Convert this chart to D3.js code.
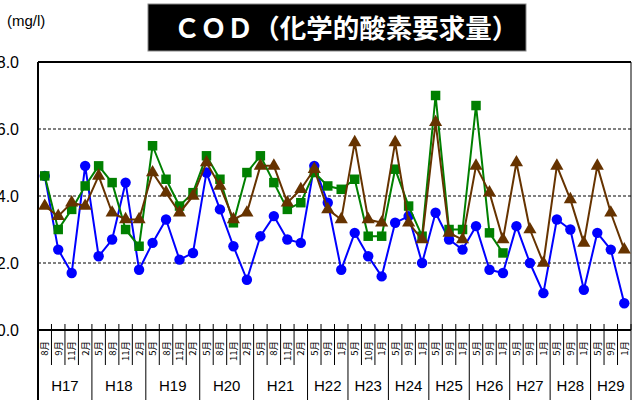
<!DOCTYPE html>
<html><head><meta charset="utf-8">
<script src="https://cdn.jsdelivr.net/npm/d3@7"></script>
<style>
body{margin:0;background:#fff;}
svg{display:block;}
</style></head>
<body>
<svg id="chart" width="632" height="400"></svg>
<script>
const titleText = "ＣＯＤ（化学的酸素要求量）";
const unitText = "(mg/l)";
const monthLabels = [
  "8月","9月","11月","2月",
  "5月","8月","11月","2月",
  "5月","8月","11月","2月",
  "5月","8月","11月","2月",
  "5月","8月","11月","2月",
  "5月","9月","1月",
  "5月","10月","1月",
  "5月","9月","1月",
  "5月","9月","1月",
  "5月","9月","1月",
  "5月","9月","1月",
  "5月","9月","1月",
  "5月","9月","1月"
];
const yearLabels = ["H17","H18","H19","H20","H21","H22","H23","H24","H25","H26","H27","H28","H29"];
const yearCounts = [4,4,4,4,4,3,3,3,3,3,3,3,3];
const yTicks = [0,2,4,6,8];
const blueValues = [4.6,2.4,1.7,4.9,2.2,2.7,4.4,1.8,2.6,3.3,2.1,2.3,4.7,3.6,2.5,1.5,2.8,3.4,2.7,2.6,4.9,3.8,1.8,2.9,2.2,1.6,3.2,3.4,2.0,3.5,2.7,2.4,3.1,1.8,1.7,3.1,2.0,1.1,3.3,3.0,1.2,2.9,2.4,0.8];
const greenValues = [4.6,3.0,3.6,4.3,4.9,4.4,3.0,2.5,5.5,4.5,3.7,4.1,5.2,4.5,3.2,4.7,5.2,4.4,3.6,3.8,4.7,4.3,4.2,4.5,2.8,2.8,4.8,3.7,2.8,7.0,3.0,3.0,6.7,2.9,2.3];
const brownValues = [3.7,3.4,3.8,3.7,4.6,3.5,3.3,3.3,4.7,4.1,3.5,4.0,5.0,4.3,3.3,3.5,4.9,4.9,3.8,4.2,4.8,3.6,3.3,5.6,3.3,3.2,5.6,3.2,2.7,6.2,2.9,2.7,4.9,4.1,2.7,5.0,3.0,2.0,4.9,3.9,2.6,4.9,3.5,2.4];

const svg = d3.select("#chart");
const L = 38, R = 631, T = 62, B = 330;
const x = d3.scaleBand().domain(d3.range(monthLabels.length)).range([L, R]);
const y = d3.scaleLinear().domain([0, 8]).range([B, T]);
const cx = i => x(i) + x.bandwidth() / 2;

// Title
svg.append("rect").attr("x", 148).attr("y", 4).attr("width", 378).attr("height", 47)
  .attr("fill", "#000").attr("stroke", "#888").attr("stroke-width", 1);
svg.append("text").attr("x", 346).attr("y", 38).attr("text-anchor", "middle")
  .attr("fill", "#fff").attr("font-family", "'Noto Sans CJK JP', sans-serif")
  .attr("font-size", 26.5).attr("font-weight", "bold").text(titleText);

svg.append("text").attr("x", 7).attr("y", 26)
  .attr("font-family", "'Liberation Sans', Arial, sans-serif").attr("font-size", 15)
  .attr("fill", "#000").text(unitText);

// Gridlines
svg.append("g").selectAll("line").data(yTicks.filter(v => v > 0 && v < 8)).join("line")
  .attr("x1", L).attr("x2", R).attr("y1", d => y(d)).attr("y2", d => y(d))
  .attr("stroke", "#000").attr("stroke-width", 1).attr("stroke-dasharray", "3,2");

// Y axis
const yAxis = d3.axisLeft(y).tickValues(yTicks).tickFormat(d3.format(".1f")).tickSize(0).tickPadding(19);
const yg = svg.append("g").attr("transform", `translate(${L},0)`).call(yAxis);
yg.select(".domain").remove();
yg.selectAll("text").attr("font-family", "'Liberation Sans', Arial, sans-serif").attr("font-size", 16).attr("fill", "#000");

// Plot frame
svg.append("line").attr("x1", L).attr("x2", R).attr("y1", T).attr("y2", T).attr("stroke", "#000").attr("stroke-width", 2);
svg.append("line").attr("x1", R).attr("x2", R).attr("y1", T).attr("y2", B).attr("stroke", "#000").attr("stroke-width", 1);
svg.append("line").attr("x1", L).attr("x2", L).attr("y1", T).attr("y2", 400).attr("stroke", "#000").attr("stroke-width", 2);

// X axis category boundaries
const bounds = d3.range(1, monthLabels.length + 1);
const yearBoundIdx = new Set(d3.cumsum(yearCounts));
svg.append("g").selectAll("line").data(bounds).join("line")
  .attr("x1", i => x(i - 1) + x.bandwidth()).attr("x2", i => x(i - 1) + x.bandwidth())
  .attr("y1", B - 6).attr("y2", i => yearBoundIdx.has(i) ? 400 : 365)
  .attr("stroke", "#000").attr("stroke-width", 1);
svg.append("line").attr("x1", L).attr("x2", R).attr("y1", B).attr("y2", B).attr("stroke", "#000").attr("stroke-width", 2);

// Month labels (rotated)
svg.append("g").selectAll("text").data(monthLabels).join("text")
  .attr("transform", (d, i) => `translate(${cx(i) + 3.5},341) rotate(-90)`)
  .attr("text-anchor", "end")
  .attr("font-family", "'Noto Sans CJK JP', sans-serif").attr("font-size", 9.5).attr("fill", "#000")
  .text(d => d);

// Year labels
const starts = [0, ...d3.cumsum(yearCounts)];
svg.append("g").selectAll("text").data(yearLabels).join("text")
  .attr("x", (d, i) => (x(starts[i]) + x(starts[i + 1] - 1) + x.bandwidth()) / 2)
  .attr("y", 391).attr("text-anchor", "middle")
  .attr("font-family", "'Liberation Sans Narrow', 'Liberation Sans', Arial, sans-serif")
  .attr("font-size", 15).attr("fill", "#000").text(d => d);

// Series
const line = d3.line().x((d, i) => cx(i)).y(d => y(d));
function drawSeries(values, color, symbolType, size) {
  const g = svg.append("g");
  g.append("path").datum(values).attr("d", line).attr("fill", "none")
    .attr("stroke", color).attr("stroke-width", 2).attr("stroke-linejoin", "round");
  g.selectAll("path.m").data(values).join("path").attr("class", "m")
    .attr("transform", (d, i) => `translate(${cx(i)},${y(d)})`)
    .attr("d", d3.symbol().type(symbolType).size(size))
    .attr("fill", color);
}
drawSeries(blueValues, "#0000ff", d3.symbolCircle, 85);
drawSeries(greenValues, "#008000", d3.symbolSquare, 90);
drawSeries(brownValues, "#663300", d3.symbolTriangle, 75);
</script>
</body></html>
